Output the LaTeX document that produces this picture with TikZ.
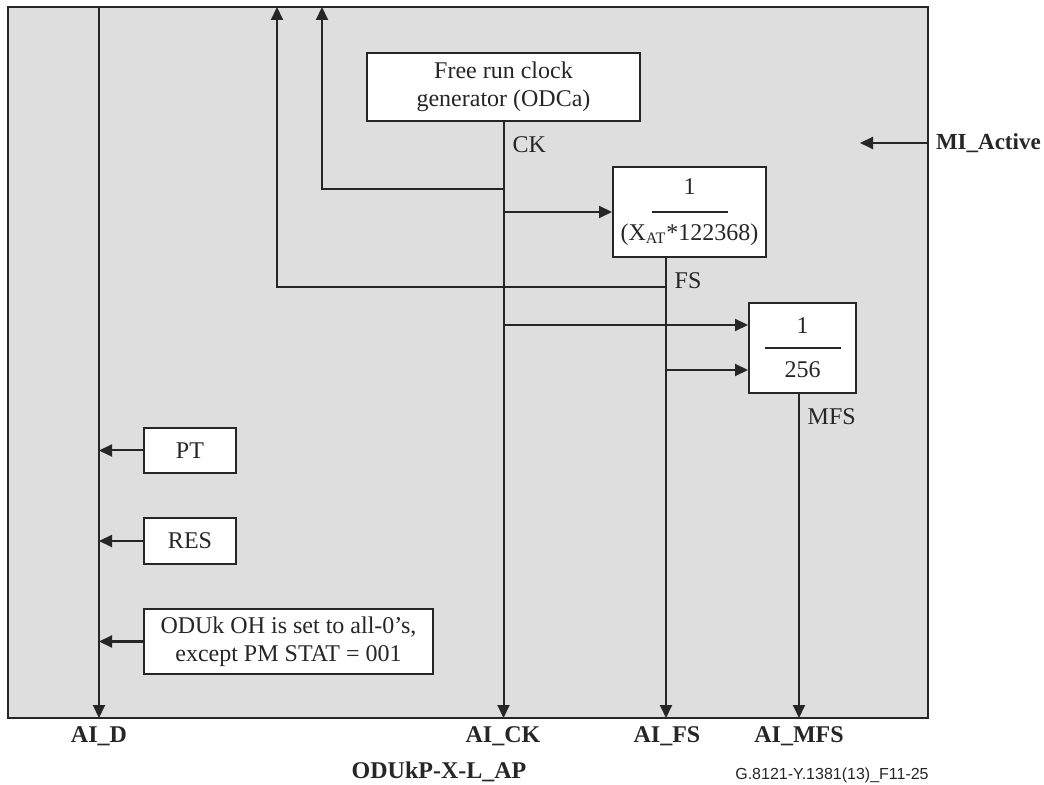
\documentclass[tikz,border=0pt]{standalone}
\usepackage{fontspec}
\setmainfont{Liberation Serif}
\newfontfamily\tagfont{Liberation Sans}
\usetikzlibrary{arrows.meta}

\begin{document}
\begin{tikzpicture}[x=0.5pt, y=-0.5pt, color=black!85, line width=1pt,
  >={Triangle[length=6.5pt,width=6pt]},
  blk/.style={draw, fill=white, inner sep=0pt, align=center,
    font=\fontsize{12}{14}\selectfont},
  sig/.style={anchor=west, font=\fontsize{12}{14}\selectfont},
  pin/.style={font=\fontsize{12}{14}\selectfont\bfseries}]
\useasboundingbox (0,0) rectangle (1044,785);
% frame of the function
\draw[fill=black!13] (8,7) coordinate (tl) rectangle (928,718) coordinate (br);
% clock generator and dividers
\node[blk, minimum width=136.5pt, minimum height=34pt] (clk) at (503.5,87)
  {Free run clock\\generator (ODCa)};
\node[blk, minimum width=76.5pt, minimum height=45pt] (div1) at (689.5,212)
  {1\\[9pt](X\textsubscript{AT}*122368)};
\draw[line width=0.6pt] ([xshift=-19pt]div1.center) -- ([xshift=19pt]div1.center);
\node[blk, minimum width=53.5pt, minimum height=45pt] (div2) at (802.5,348)
  {1\\[8pt]256};
\draw[line width=0.6pt] ([xshift=-19pt]div2.center) -- ([xshift=19pt]div2.center);
% overhead sources
\node[blk, minimum width=46pt, minimum height=22.5pt] (pt) at (190,450.5) {PT};
\node[blk, minimum width=46pt, minimum height=23pt] (res) at (190,541) {RES};
\node[blk, minimum width=144.5pt, minimum height=32.5pt] (oh) at (288.5,641.5)
  {ODUk OH is set to all-0's,\\except PM STAT = 001};
% CK
\draw[->] (clk.south) -- (clk.south |- br);
\node[sig] (lck) at (505,145) {CK};
\draw[->] (clk.south |- 0,189) -| (322,0 |- tl);
\draw[->] (clk.south |- div1.west) -- (div1.west);
\draw[->] (clk.south |- 0,325) -- (div2.west |- 0,325);
% FS
\draw[->] (666,0 |- div1.south) -- (666,0 |- br);
\node[sig] (lfs) at (667,281) {FS};
\draw[->] (666,287) -| (277,0 |- tl);
\draw[->] (666,370) -- (div2.west |- 0,370);
% MFS
\draw[->] (799,0 |- div2.south) -- (799,0 |- br);
\node[sig] (lmfs) at (800,417) {MFS};
% data
\draw[->] (99,0 |- tl) -- (99,0 |- br);
\draw[->] (pt.west) -- (99,0 |- pt.west);
\draw[->] (res.west) -- (99,0 |- res.west);
\draw[->] (oh.west) -- (99,0 |- oh.west);
% management input
\draw[->] (br |- 0,143) -- (860,143);
\node[pin, anchor=west, inner xsep=0pt, font=\fontsize{11.5}{14}\selectfont\bfseries]
  (mi) at (935,143) {MI\_Active};
% access point
\node[pin] (aid) at (99,736) {AI\_D};
\node[pin] (aick) at (503,736) {AI\_CK};
\node[pin] (aifs) at (667,736) {AI\_FS};
\node[pin] (aimfs) at (799,736) {AI\_MFS};
\node[pin] (ap) at (439,772) {ODUkP-X-L\_AP};
\node[font=\tagfont\fontsize{8}{9}\selectfont] (fig) at (832,775) {G.8121-Y.1381(13)\_F11-25};
\end{tikzpicture}
\end{document}
